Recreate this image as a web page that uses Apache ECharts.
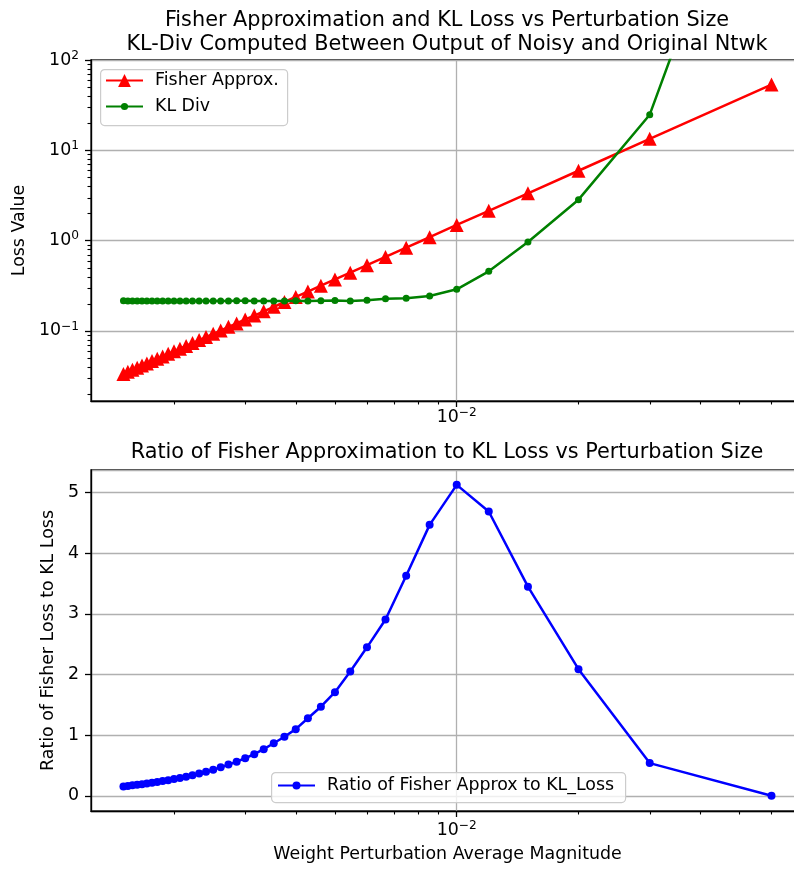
<!DOCTYPE html>
<html>
<head>
<meta charset="utf-8">
<script src="https://cdn.jsdelivr.net/npm/echarts@6/dist/echarts.min.js"></script>
<style>
html,body{margin:0;padding:0;background:#fff;overflow:hidden;}
#chart{width:830px;height:869px;}
</style>
</head>
<body>
<div id="chart"></div>
<script>
// Weight perturbation average magnitude (x values), increasing
const perturbation = [0.0015, 0.001538, 0.001579, 0.001622, 0.001667, 0.001714, 0.001765, 0.001818, 0.001875, 0.001935,
  0.002, 0.002069, 0.002143, 0.002222, 0.002308, 0.0024, 0.0025, 0.002609, 0.002727, 0.002857,
  0.003, 0.003158, 0.003333, 0.003529, 0.00375, 0.004, 0.004286, 0.004615, 0.005, 0.005455,
  0.006, 0.006667, 0.0075, 0.008571, 0.01, 0.012, 0.015, 0.02, 0.03, 0.06];

const fisherApprox = [0.0334, 0.0352, 0.0371, 0.0391, 0.0413, 0.0437, 0.0463, 0.0491, 0.0522, 0.0557,
  0.0594, 0.0636, 0.0682, 0.0734, 0.0791, 0.0856, 0.0929, 0.101, 0.111, 0.121,
  0.134, 0.148, 0.165, 0.185, 0.209, 0.238, 0.273, 0.317, 0.372, 0.442,
  0.535, 0.660, 0.836, 1.09, 1.49, 2.14, 3.34, 5.94, 13.4, 53.5];

const klDiv = [0.216, 0.215, 0.215, 0.215, 0.215, 0.215, 0.215, 0.215, 0.215, 0.215,
  0.215, 0.215, 0.215, 0.215, 0.215, 0.215, 0.215, 0.215, 0.215, 0.216,
  0.216, 0.215, 0.215, 0.214, 0.215, 0.216, 0.214, 0.216, 0.217, 0.215,
  0.218, 0.227, 0.230, 0.244, 0.289, 0.457, 0.967, 2.84, 24.8, 118000];

const ratio = [0.155, 0.164, 0.173, 0.182, 0.192, 0.203, 0.215, 0.228, 0.243, 0.259,
  0.276, 0.296, 0.317, 0.341, 0.368, 0.398, 0.432, 0.470, 0.516, 0.563,
  0.62, 0.688, 0.77, 0.868, 0.975, 1.10, 1.28, 1.47, 1.71, 2.05,
  2.45, 2.91, 3.63, 4.47, 5.13, 4.69, 3.45, 2.09, 0.54, 0.00045];

// tick values
const xMinorTicks = [0.002, 0.003, 0.004, 0.005, 0.006, 0.007, 0.008, 0.009, 0.02, 0.03, 0.04, 0.05, 0.06, 0.07];
const yMinorTicksTop = [0.02, 0.03, 0.04, 0.05, 0.06, 0.07, 0.08, 0.09,
  0.2, 0.3, 0.4, 0.5, 0.6, 0.7, 0.8, 0.9,
  2, 3, 4, 5, 6, 7, 8, 9,
  20, 30, 40, 50, 60, 70, 80, 90];

const titleTop = 'Fisher Approximation and KL Loss vs Perturbation Size\nKL-Div Computed Between Output of Noisy and Original Ntwk';
const titleBottom = 'Ratio of Fisher Approximation to KL Loss vs Perturbation Size';

const FONT = 'DejaVu Sans';
const FS = 17.4;
const chart = echarts.init(document.getElementById('chart'), null, {renderer: 'canvas'});

function pow10Label(v) {
  const e = Math.round(Math.log10(v));
  return '{b|10}{s|' + (e < 0 ? '\u2212' : '') + Math.abs(e) + '}';
}
const powRich = {
  b: {fontFamily: FONT, fontSize: FS, color: '#000'},
  s: {fontFamily: FONT, fontSize: 12.2, color: '#000', padding: [0, 0, 9, 0]}
};

const X_MIN = 0.001247, X_MAX = 0.0722;
const GRID_LEFT = 91, GRID_W = 713;
const TICK = {show: true, length: 6, lineStyle: {color: '#000', width: 1.3}};
const SPINE = {show: true, onZero: false, lineStyle: {color: '#000', width: 1.3}};
const GRIDLINE = {show: true, lineStyle: {color: '#b0b0b0', width: 1.3}};

function xAxisCfg(gridIndex, withName) {
  return {
    type: 'log', logBase: 10, gridIndex: gridIndex, min: X_MIN, max: X_MAX,
    axisLine: SPINE, axisTick: TICK,
    axisLabel: {formatter: pow10Label, rich: powRich, margin: gridIndex === 0 ? 6 : 9, showMinLabel: false, showMaxLabel: false},
    splitLine: GRIDLINE,
    minorTick: {show: false}, minorSplitLine: {show: false},
    name: withName ? 'Weight Perturbation Average Magnitude' : '',
    nameLocation: 'middle', nameGap: 35,
    nameTextStyle: {fontFamily: FONT, fontSize: FS, color: '#000'}
  };
}

function minorTickSeries(xAxisIndex, yAxisIndex, values, axisDir, yRef, xRef) {
  return {
    type: 'custom', xAxisIndex: xAxisIndex, yAxisIndex: yAxisIndex, silent: true, clip: false,
    z: 5,
    data: values.map(v => axisDir === 'x' ? [v, yRef] : [xRef, v]),
    renderItem: function (params, api) {
      const cs = params.coordSys;
      const p = api.coord([api.value(0), api.value(1)]);
      if (axisDir === 'x') {
        const x = Math.round(p[0]) + 0.5;
        const y0 = cs.y + cs.height;
        return {type: 'line', shape: {x1: x, y1: y0, x2: x, y2: y0 + 3.5}, style: {stroke: '#000', lineWidth: 1.1}};
      } else {
        const y = Math.round(p[1]) + 0.5;
        return {type: 'line', shape: {x1: cs.x - 3.5, y1: y, x2: cs.x, y2: y}, style: {stroke: '#000', lineWidth: 1.1}};
      }
    }
  };
}

const xy = (xs, ys) => xs.map((x, i) => [x, ys[i]]);

const legendText = {fontFamily: FONT, fontSize: FS, color: '#000', padding: [0, 0, 0, 7]};
function legendCfg(name, left, top, itemHeight) {
  return {data: [name], orient: 'vertical', left: left, top: top, padding: 0,
    itemWidth: 37, itemHeight: itemHeight, textStyle: legendText, selectedMode: false, z: 6};
}

const option = {
  animation: false,
  backgroundColor: '#fff',
  textStyle: {fontFamily: FONT},
  title: [
    {text: titleTop, left: 447, top: 9, textAlign: 'center', padding: 0,
      textStyle: {fontFamily: FONT, fontSize: 20.8, fontWeight: 'normal', color: '#000', lineHeight: 23.5}},
    {text: titleBottom, left: 447, top: 441, textAlign: 'center', padding: 0,
      textStyle: {fontFamily: FONT, fontSize: 20.8, fontWeight: 'normal', color: '#000', lineHeight: 23.5}}
  ],
  graphic: [
    {type: 'rect', left: 100, top: 69, shape: {width: 187, height: 56, r: 4}, z: 5,
      style: {fill: 'rgba(255,255,255,0.8)', stroke: '#cccccc', lineWidth: 1.2}},
    {type: 'rect', left: 271, top: 772, shape: {width: 354, height: 30, r: 4}, z: 5,
      style: {fill: 'rgba(255,255,255,0.8)', stroke: '#cccccc', lineWidth: 1.2}}
  ],
  legend: [
    legendCfg('Fisher Approx.', 105, 72, 16),
    legendCfg('KL Div', 105, 98, 9),
    legendCfg('Ratio of Fisher Approx to KL_Loss', 277, 777, 10)
  ],
  grid: [
    {left: GRID_LEFT, top: 60, width: GRID_W, height: 341, show: true, borderColor: '#000', borderWidth: 1.3, backgroundColor: 'transparent'},
    {left: GRID_LEFT, top: 470, width: GRID_W, height: 341, show: true, borderColor: '#000', borderWidth: 1.3, backgroundColor: 'transparent'}
  ],
  xAxis: [xAxisCfg(0, false), xAxisCfg(1, true)],
  yAxis: [
    {type: 'log', logBase: 10, gridIndex: 0, min: 0.01675, max: 100,
      axisLine: SPINE, axisTick: TICK,
      axisLabel: {formatter: pow10Label, rich: powRich, margin: 12, showMinLabel: false},
      splitLine: GRIDLINE,
      name: 'Loss Value', nameLocation: 'middle', nameGap: 59,
      nameTextStyle: {fontFamily: FONT, fontSize: FS, color: '#000'}},
    {type: 'value', gridIndex: 1, min: -0.25, max: 5.375,
      axisLine: SPINE, axisTick: TICK,
      axisLabel: {fontFamily: FONT, fontSize: FS, color: '#000', margin: 12, showMinLabel: false, showMaxLabel: false},
      splitLine: GRIDLINE,
      name: 'Ratio of Fisher Loss to KL Loss', nameLocation: 'middle', nameGap: 29,
      nameTextStyle: {fontFamily: FONT, fontSize: FS, color: '#000'}}
  ],
  series: [
    {name: 'Fisher Approx.', type: 'line', xAxisIndex: 0, yAxisIndex: 0, data: xy(perturbation, fisherApprox),
      symbol: 'triangle', symbolSize: 14, showAllSymbol: true,
      lineStyle: {color: '#ff0000', width: 2.5}, itemStyle: {color: '#ff0000'}, z: 3},
    {name: 'KL Div', type: 'line', xAxisIndex: 0, yAxisIndex: 0, data: xy(perturbation, klDiv),
      symbol: 'circle', symbolSize: 7, showAllSymbol: true,
      lineStyle: {color: '#008000', width: 2.5}, itemStyle: {color: '#008000'}, z: 4},
    {name: 'Ratio of Fisher Approx to KL_Loss', type: 'line', xAxisIndex: 1, yAxisIndex: 1, data: xy(perturbation, ratio),
      symbol: 'circle', symbolSize: 8, showAllSymbol: true,
      lineStyle: {color: '#0000ff', width: 2.5}, itemStyle: {color: '#0000ff'}, z: 3},
    minorTickSeries(0, 0, xMinorTicks, 'x', 1, 0.01),
    minorTickSeries(1, 1, xMinorTicks, 'x', 1, 0.01),
    minorTickSeries(0, 0, yMinorTicksTop, 'y', 1, 0.01)
  ]
};
chart.setOption(option);
</script>
</body>
</html>
